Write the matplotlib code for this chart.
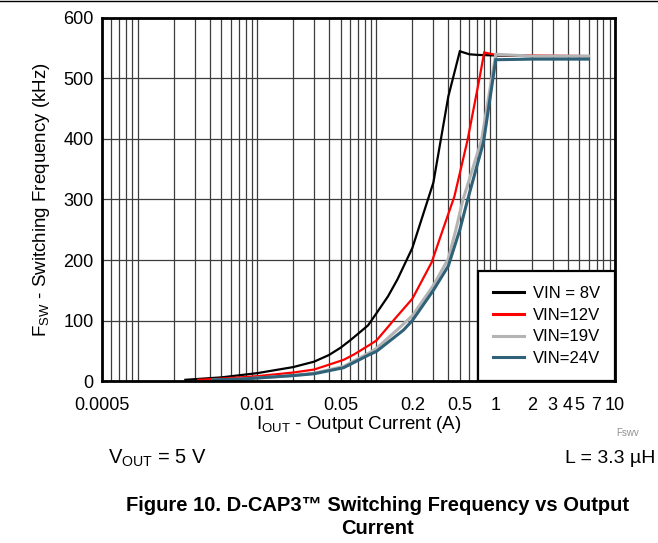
import matplotlib
matplotlib.use("Agg")
import matplotlib.pyplot as plt
import matplotlib.ticker as mticker
from matplotlib.lines import Line2D

plt.rcParams["font.family"] = ["Liberation Sans", "DejaVu Sans"]

# ── Data ──────────────────────────────────────────────────────────────────────
i_8v = [0.0025, 0.005, 0.01, 0.02, 0.03, 0.04, 0.05, 0.06, 0.07, 0.085, 0.1,
        0.125, 0.15, 0.2, 0.3, 0.4, 0.5, 0.6, 0.7, 1.0, 2.0, 3.0, 6.0]
f_8v = [2, 6, 13, 23, 32, 43, 55, 67, 78, 92, 112,
        140, 168, 220, 328, 470, 545, 540, 539, 538, 537, 537, 537]

i_12v = [0.0032, 0.005, 0.01, 0.02, 0.03, 0.04, 0.053, 0.065, 0.088, 0.1,
         0.122, 0.14, 0.2, 0.29, 0.36, 0.45, 0.58, 0.73, 0.8, 1.0, 2.0, 6.0]
f_12v = [2, 4, 8, 14, 19, 27, 35, 44, 60, 67,
         87, 101, 136, 196, 250, 305, 398, 500, 543, 539, 538, 537]

i_19v = [0.0043, 0.007, 0.01, 0.02, 0.03, 0.053, 0.088, 0.1, 0.148, 0.2,
         0.3, 0.4, 0.463, 0.53, 0.76, 1.0, 2.0, 6.0]
f_19v = [2, 3, 5, 9, 13, 24, 47, 54, 84, 108,
         158, 202, 250, 299, 398, 540, 537, 537]

i_24v = [0.0043, 0.007, 0.01, 0.02, 0.03, 0.053, 0.088, 0.1, 0.168, 0.2,
         0.3, 0.4, 0.5, 0.58, 0.79, 1.0, 2.0, 6.0]
f_24v = [2, 3, 5, 9, 12, 22, 44, 49, 84, 100,
         150, 190, 250, 299, 395, 531, 532, 532]

x_ticks = [0.0005, 0.01, 0.05, 0.2, 0.5, 1, 2, 3, 4, 5, 7, 10]
x_tick_labels = ["0.0005", "0.01", "0.05", "0.2", "0.5", "1", "2", "3", "4", "5", "7", "10"]
y_ticks = [0, 100, 200, 300, 400, 500, 600]

series = [
    (i_8v, f_8v, "VIN = 8V", "#000000", 1.6),
    (i_12v, f_12v, "VIN=12V", "#ff0000", 1.6),
    (i_19v, f_19v, "VIN=19V", "#b4b4b4", 2.2),
    (i_24v, f_24v, "VIN=24V", "#2f6178", 2.2),
]

# ── Figure ───────────────────────────────────────────────────────────────────
fig = plt.figure(figsize=(6.58, 5.43), dpi=100)
ax = fig.add_axes([0.155, 0.2983, 0.7797, 0.6686])

for x, y, lab, col, lw in series:
    ax.plot(x, y, color=col, linewidth=lw, label=lab, solid_joinstyle="miter")

ax.set_xscale("log")
ax.set_xlim(0.0005, 10)
ax.set_ylim(0, 600)

ax.xaxis.set_major_locator(mticker.FixedLocator(x_ticks))
ax.xaxis.set_major_formatter(mticker.FixedFormatter(x_tick_labels))
ax.xaxis.set_minor_locator(mticker.LogLocator(base=10, subs=range(1, 10), numticks=50))
ax.xaxis.set_minor_formatter(mticker.NullFormatter())
ax.set_yticks(y_ticks)

ax.tick_params(axis="both", which="both", length=0, labelsize=13)
ax.tick_params(axis="x", pad=11.5)
ax.tick_params(axis="y", pad=6)
ax.grid(True, which="both", axis="x", color="#3c3c3c", linewidth=0.9)
ax.grid(True, which="major", axis="y", color="#3c3c3c", linewidth=0.9)
for sp in ax.spines.values():
    sp.set_linewidth(2.0)

ax.set_xlabel("I$_{\\mathregular{OUT}}$ - Output Current (A)", fontsize=13.5, labelpad=0)
ax.set_ylabel("F$_{\\mathregular{SW}}$ - Switching Frequency (kHz)", fontsize=13.5, labelpad=8)

leg = ax.legend(loc="lower right", fontsize=12, frameon=True, fancybox=False,
                borderaxespad=0, handlelength=1.9, handletextpad=0.5,
                labelspacing=0.4, borderpad=0.9)
leg.get_frame().set_edgecolor("black")
leg.get_frame().set_linewidth(1.6)
leg.get_frame().set_alpha(1)
for h in leg.get_lines():
    h.set_linewidth(2.2)

# Page decorations
fig.add_artist(Line2D([0, 1], [0.9975, 0.9975], color="black", linewidth=1.0))
fig.text(0.954, 0.202, "Fswv", fontsize=7, color="#909090", ha="center", va="center")
fig.text(0.164, 0.156, "V$_{\\mathregular{OUT}}$ = 5 V", fontsize=14.5, ha="left", va="center")
fig.text(0.996, 0.156, "L = 3.3 µH", fontsize=14, ha="right", va="center")
fig.text(0.573, 0.048, "Figure 10. D-CAP3™ Switching Frequency vs Output\nCurrent",
         fontsize=14.5, fontweight="bold", ha="center", va="center",
         multialignment="center", linespacing=1.25)

fig.savefig("out.png", dpi=100)
